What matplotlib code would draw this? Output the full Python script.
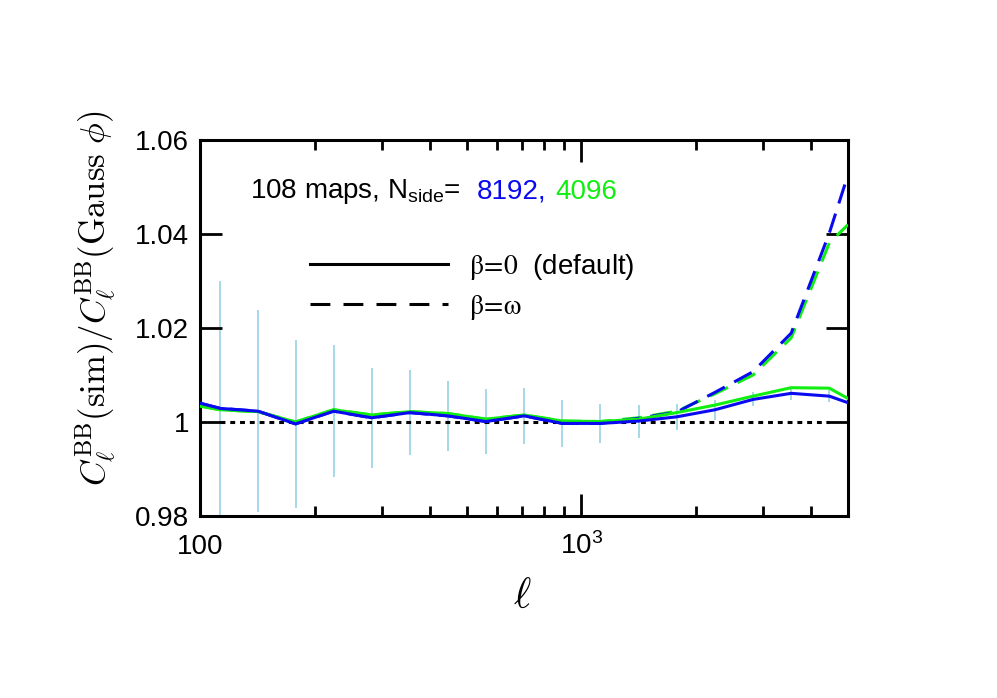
import numpy as np
import matplotlib
matplotlib.use('Agg')
import matplotlib.pyplot as plt
from matplotlib.lines import Line2D
from matplotlib.ticker import FixedLocator, NullFormatter

plt.rcParams['font.family'] = ['Liberation Sans', 'DejaVu Sans']
plt.rcParams['mathtext.fontset'] = 'custom'
plt.rcParams['mathtext.rm'] = 'Liberation Sans'
plt.rcParams['mathtext.it'] = 'Liberation Sans:italic'
plt.rcParams['mathtext.bf'] = 'Liberation Sans:bold'

# multipole grid (bin centres, plus the two ends of the curves)
ell = [100, 113, 142, 178, 224, 282, 355, 447, 562, 708, 891, 1122,
       1413, 1778, 2239, 2818, 3548, 4467, 5000]

# beta = 0 (default)
blue_solid = [1.0040, 1.0029, 1.0023, 0.9996, 1.0023, 1.0009, 1.0020, 1.0013,
              1.0001, 1.0013, 0.9997, 0.9997, 1.0002, 1.0011, 1.0026, 1.0048,
              1.0061, 1.0055, 1.0041]
green_solid = [1.0034, 1.0026, 1.0022, 1.0000, 1.0026, 1.0015, 1.0022, 1.0018,
               1.0006, 1.0015, 1.0002, 1.0001, 1.0006, 1.0020, 1.0036, 1.0055,
               1.0073, 1.0072, 1.0050]

# beta = omega
blue_dashed = [1.0040, 1.0029, 1.0023, 0.9996, 1.0023, 1.0009, 1.0020, 1.0013,
               1.0001, 1.0013, 0.9997, 0.9997, 1.0008, 1.0021, 1.0063, 1.0107,
               1.0189, 1.0402, 1.0526]
green_dashed = [1.0034, 1.0026, 1.0022, 1.0000, 1.0026, 1.0015, 1.0022, 1.0018,
                1.0006, 1.0015, 1.0002, 1.0001, 1.0009, 1.0023, 1.0060, 1.0100,
                1.0179, 1.0381, 1.0420]

# 1-sigma scatter of the 108 maps at the bin centres
err_half = [0.0270, 0.0215, 0.0178, 0.0140, 0.0106, 0.0090, 0.0074, 0.0069,
            0.0060, 0.0050, 0.0041, 0.0035, 0.0028, 0.0021, 0.0015, 0.0014,
            0.0013]

ell_bins = ell[1:-1]
err_mid = blue_solid[1:-1]

W, H = 997, 698
fig = plt.figure(figsize=(W / 100, H / 100), dpi=100)
ax = fig.add_axes([200 / W, 1 - 516 / H, 648 / W, 376 / H])

blue = '#0a0af0'
green = '#11ee11'
lw = 2.2
fs = 20

ax.errorbar(ell_bins, err_mid, yerr=err_half, fmt='none', ecolor='#a6d8e6',
            elinewidth=1.4, capsize=0, zorder=1)
ax.plot([ell_bins[0], ell_bins[-1]], [1, 1], color='k', lw=lw,
        linestyle=(0, (1.6, 1.6)), zorder=2)

ax.plot(ell, green_dashed, color=green, lw=lw, linestyle=(0, (6.5, 3.5)), zorder=3)
ax.plot(ell, blue_dashed, color=blue, lw=lw, linestyle=(0, (6.5, 3.5)), zorder=4)
ax.plot(ell, green_solid, color=green, lw=lw, zorder=5)
ax.plot(ell, blue_solid, color=blue, lw=lw, zorder=6)

ax.set_xscale('log')
ax.set_xlim(100, 5000)
ax.set_ylim(0.98, 1.06)

ax.xaxis.set_major_locator(FixedLocator([100, 1000]))
ax.set_xticklabels(['100', r'$10^{3}$'])
ax.xaxis.set_minor_locator(FixedLocator([200, 300, 400, 500, 600, 700, 800, 900,
                                         2000, 3000, 4000]))
ax.xaxis.set_minor_formatter(NullFormatter())
ax.set_yticks([0.98, 1.0, 1.02, 1.04, 1.06])
ax.set_yticklabels(['0.98', '1', '1.02', '1.04', '1.06'])

ax.tick_params(which='both', direction='in', top=True, right=True, width=2,
               labelsize=fs)
ax.tick_params(which='major', length=16)
ax.tick_params(which='minor', length=7)
ax.tick_params(axis='y', pad=8)
ax.tick_params(axis='x', pad=27)
for lab in ax.get_xticklabels():
    lab.set_verticalalignment('baseline')
for s in ax.spines.values():
    s.set_linewidth(2.2)

ax.set_xlabel(r'$\ell$', fontsize=30, math_fontfamily='cm', va='center')
ax.xaxis.set_label_coords((522 - 200) / 648, (516 - 597) / 376)
ax.set_ylabel(r'$C_\ell^{\rm BB}({\rm sim})/C_\ell^{\rm BB}({\rm Gauss}\ \phi)$',
              fontsize=25, math_fontfamily='cm', va='center')
ax.yaxis.set_label_coords((96 - 200) / 648, (516 - 298) / 376)

# legend
handles = [Line2D([], [], color='k', lw=lw),
           Line2D([], [], color='k', lw=lw, linestyle=(0, (6.5, 4.3)))]
labels = [r'$\mathrm{\beta\!=\!0}$  (default)', r'$\mathrm{\beta\!=\!\omega}$']
leg = ax.legend(handles, labels, loc='upper left',
                bbox_to_anchor=((310 - 200) / 648, (516 - 252) / 376),
                frameon=False, fontsize=fs, handlelength=4.97, handletextpad=0.75,
                labelspacing=0.4, borderpad=0, borderaxespad=0)
for t in leg.get_texts():
    t.set_math_fontfamily('stix')

# annotation with coloured resolutions
ty = 1 - 192 / H
t1 = fig.text(250 / W, ty, r'108 maps, N$_{\rm side}$=', fontsize=fs, va='center')
fig.canvas.draw()
bb = t1.get_window_extent()
t2 = fig.text((bb.x1 + 16) / W, ty, '8192,', fontsize=fs, va='center', color=blue)
fig.canvas.draw()
bb = t2.get_window_extent()
t3 = fig.text((bb.x1 + 9) / W, ty, '4096', fontsize=fs, va='center', color=green)

fig.savefig('out.png', dpi=100)
